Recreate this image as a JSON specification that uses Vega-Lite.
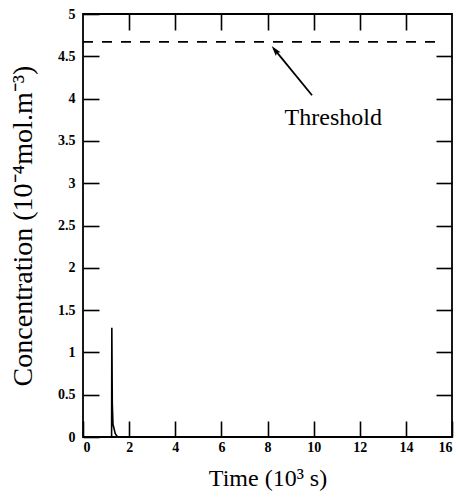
{
  "$schema": "https://vega.github.io/schema/vega-lite/v6.json",
  "width": 369,
  "height": 423,
  "autosize": {"type": "none"},
  "padding": {"left": 83, "top": 14, "right": 8, "bottom": 60},
  "background": "white",
  "config": {
    "view": {"stroke": "black", "strokeWidth": 1.8},
    "font": "Liberation Serif",
    "axis": {
      "domain": false,
      "grid": false,
      "tickColor": "black",
      "tickWidth": 1.6,
      "tickSize": -16,
      "labelFont": "Liberation Serif",
      "labelFontSize": 14,
      "labelFontWeight": "bold",
      "labelColor": "black",
      "titleFont": "Liberation Serif",
      "titleFontWeight": "normal",
      "titleColor": "black"
    }
  },
  "datasets": {
    "curve": [
      {"t": 0, "c": 0},
      {"t": 1.2, "c": 0},
      {"t": 1.24, "c": 0},
      {"t": 1.25, "c": 1.29},
      {"t": 1.27, "c": 0.4},
      {"t": 1.3, "c": 0.15},
      {"t": 1.4, "c": 0.04},
      {"t": 1.5, "c": 0},
      {"t": 16, "c": 0}
    ],
    "threshold": [{"t": 0, "t2": 15.5, "c": 4.67}],
    "arrow": [{"t": 9.93, "c": 4.04, "t2": 8.4, "c2": 4.55}],
    "head": [{"t": 8.33, "c": 4.57}],
    "label": [{"t": 10.85, "c": 3.77, "text": "Threshold"}]
  },
  "layer": [
    {
      "data": {"name": "curve"},
      "mark": {"type": "line", "color": "black", "strokeWidth": 1.6, "clip": true},
      "encoding": {
        "x": {"field": "t", "type": "quantitative", "scale": {"domain": [0, 16], "nice": false},
          "axis": {"orient": "bottom", "values": [0, 2, 4, 6, 8, 10, 12, 14, 16], "title": "Time (10³ s)", "titleFontSize": 24, "labelPadding": 19, "titlePadding": 12}},
        "y": {"field": "c", "type": "quantitative", "scale": {"domain": [0, 5], "nice": false},
          "axis": {"orient": "left", "values": [0, 0.5, 1, 1.5, 2, 2.5, 3, 3.5, 4, 4.5, 5], "format": ".2~f", "title": "Concentration (10⁻⁴mol.m⁻³)", "titleFontSize": 28, "labelPadding": 24, "titlePadding": 20}}
      }
    },
    {
      "data": {"name": "threshold"},
      "mark": {"type": "rule", "color": "black", "strokeWidth": 1.6, "strokeDash": [10, 9]},
      "encoding": {
        "x": {"field": "t", "type": "quantitative", "axis": {"orient": "top", "values": [2, 4, 6, 8, 10, 12, 14], "labels": false, "title": null}},
        "x2": {"field": "t2"},
        "y": {"field": "c", "type": "quantitative", "axis": {"orient": "right", "values": [0.5, 1, 1.5, 2, 2.5, 3, 3.5, 4, 4.5], "labels": false, "title": null}}
      }
    },
    {
      "data": {"name": "arrow"},
      "mark": {"type": "rule", "color": "black", "strokeWidth": 1.8},
      "encoding": {
        "x": {"field": "t", "type": "quantitative", "axis": null},
        "y": {"field": "c", "type": "quantitative", "axis": null},
        "x2": {"field": "t2"},
        "y2": {"field": "c2"}
      }
    },
    {
      "data": {"name": "head"},
      "mark": {"type": "point", "shape": "M0,-1L0.55,0.9L0,0.55L-0.55,0.9Z", "filled": true, "color": "black", "opacity": 1, "size": 120, "angle": 321},
      "encoding": {
        "x": {"field": "t", "type": "quantitative", "axis": null},
        "y": {"field": "c", "type": "quantitative", "axis": null}
      }
    },
    {
      "data": {"name": "label"},
      "mark": {"type": "text", "font": "Liberation Serif", "fontSize": 24, "color": "black", "align": "center", "baseline": "middle"},
      "encoding": {
        "x": {"field": "t", "type": "quantitative", "axis": null},
        "y": {"field": "c", "type": "quantitative", "axis": null},
        "text": {"field": "text"}
      }
    }
  ],
  "resolve": {"axis": {"x": "independent", "y": "independent"}}
}
